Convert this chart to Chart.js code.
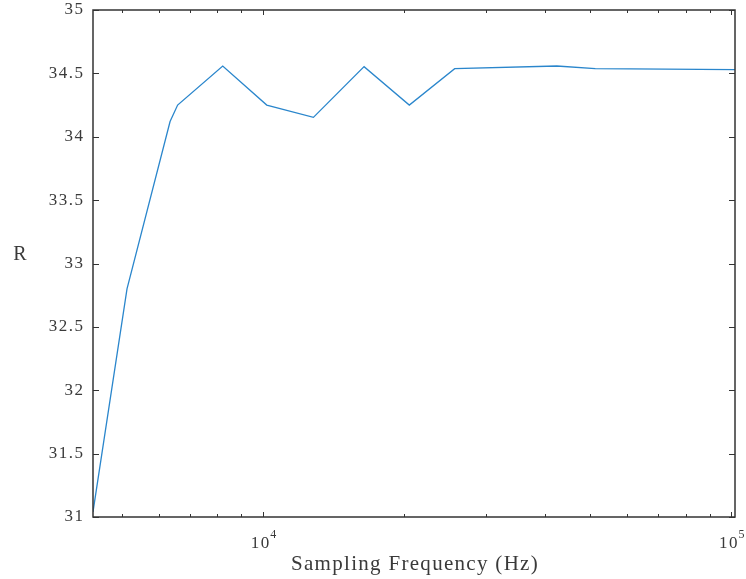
<!DOCTYPE html>
<html>
<head>
<meta charset="utf-8">
<script src="https://cdn.jsdelivr.net/npm/chart.js@4/dist/chart.umd.min.js"></script>
<style>
  html, body { margin: 0; padding: 0; background: #fff; }
  #wrap { width: 746px; height: 579px; }
</style>
</head>
<body>
<div id="wrap"><canvas id="c"></canvas></div>
<script>
/* data */
const freqs = [4340, 5130, 6340, 6580, 8214, 10200, 12830, 16460, 20560, 25700, 42470, 51300, 102000];
const rVals = [31.04, 32.80, 34.12, 34.25, 34.558, 34.25, 34.153, 34.553, 34.25, 34.537, 34.558, 34.537, 34.529];
const yTicks = [31, 31.5, 32, 32.5, 33, 33.5, 34, 34.5, 35];
const xMajor = [10000, 100000];
const xMinor = [5000, 6000, 7000, 8000, 9000, 20000, 30000, 40000, 50000, 60000, 70000, 80000, 90000];
const xLabel = 'Sampling Frequency (Hz)';
const yLabel = 'R';

const AX = '#333';
const TXT = '#3a3a3a';
const FONT = '"Liberation Serif", "DejaVu Serif", serif';

/* MATLAB-like box with inward ticks */
const boxAxes = {
  id: 'boxAxes',
  afterDraw(chart) {
    const { ctx, chartArea: a, scales } = chart;
    const xs = scales.x, ys = scales.y;
    ctx.save();
    ctx.strokeStyle = AX;
    ctx.lineWidth = 1.5;
    ctx.strokeRect(a.left, a.top, a.right - a.left, a.bottom - a.top);

    ctx.lineWidth = 1;
    ctx.beginPath();
    yTicks.forEach(v => {
      const y = Math.round(ys.getPixelForValue(v)) + 0.5;
      ctx.moveTo(a.left, y); ctx.lineTo(a.left + 6, y);
      ctx.moveTo(a.right, y); ctx.lineTo(a.right - 6, y);
    });
    xMajor.forEach(v => {
      const x = Math.round(xs.getPixelForValue(v)) + 0.5;
      ctx.moveTo(x, a.bottom); ctx.lineTo(x, a.bottom - 5);
      ctx.moveTo(x, a.top); ctx.lineTo(x, a.top + 5);
    });
    xMinor.forEach(v => {
      const x = Math.round(xs.getPixelForValue(v)) + 0.5;
      ctx.moveTo(x, a.bottom); ctx.lineTo(x, a.bottom - 3);
      ctx.moveTo(x, a.top); ctx.lineTo(x, a.top + 3);
    });
    ctx.stroke();

    // y tick labels
    ctx.fillStyle = TXT;
    ctx.letterSpacing = '1.5px';
    ctx.font = '17px ' + FONT;
    ctx.textAlign = 'right';
    ctx.textBaseline = 'middle';
    yTicks.forEach(v => {
      ctx.fillText(String(v), a.left - 8.5, ys.getPixelForValue(v));
    });

    // x tick labels 10^n
    ctx.textBaseline = 'alphabetic';
    xMajor.forEach(v => {
      const x = xs.getPixelForValue(v);
      const exp = String(Math.round(Math.log10(v)));
      ctx.letterSpacing = '1.5px';
      ctx.font = '17px ' + FONT;
      const w10 = ctx.measureText('10').width;
      ctx.letterSpacing = '0px';
      ctx.font = '12px ' + FONT;
      const we = ctx.measureText(exp).width;
      const start = x - (w10 + we) / 2 + 1;
      ctx.textAlign = 'left';
      ctx.letterSpacing = '1.5px';
      ctx.font = '17px ' + FONT;
      ctx.fillText('10', start, 548);
      ctx.letterSpacing = '0px';
      ctx.font = '12px ' + FONT;
      ctx.fillText(exp, start + w10 - 0.5, 538);
    });

    // axis titles
    ctx.font = '21px ' + FONT;
    ctx.letterSpacing = '1.3px';
    ctx.textAlign = 'center';
    ctx.textBaseline = 'alphabetic';
    ctx.fillText(xLabel, (a.left + a.right) / 2 + 1, 570);
    ctx.letterSpacing = '0px';
    ctx.font = '20px ' + FONT;
    ctx.fillText(yLabel, 20, 260);
    ctx.restore();
  }
};

new Chart(document.getElementById('c'), {
  type: 'line',
  data: {
    datasets: [{
      data: freqs.map((f, i) => ({ x: f, y: rVals[i] })),
      borderColor: '#2a86cc',
      borderWidth: 1.3,
      pointRadius: 0,
      tension: 0,
      fill: false
    }]
  },
  options: {
    responsive: true,
    maintainAspectRatio: false,
    animation: false,
    layout: { padding: { left: 93, right: 11, top: 10, bottom: 62 } },
    plugins: { legend: { display: false }, tooltip: { enabled: false } },
    scales: {
      x: { type: 'logarithmic', min: 4340, max: 102000, display: false },
      y: { type: 'linear', min: 31, max: 35, display: false }
    }
  },
  plugins: [boxAxes]
});
</script>
</body>
</html>
